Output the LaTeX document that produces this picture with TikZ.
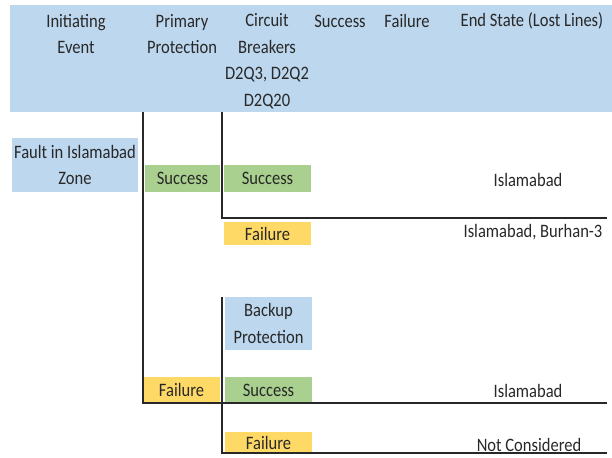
\documentclass[tikz,border=0pt]{standalone}
\usepackage{fontspec}
\setmainfont{Carlito}[FakeStretch=0.87]
\definecolor{hdrblue}{RGB}{189,215,238}
\definecolor{okgreen}{RGB}{169,208,142}
\definecolor{failyellow}{RGB}{255,217,102}
\definecolor{inkgray}{RGB}{40,40,40}

\tikzset{
  lbl/.style={text=inkgray,font=\fontsize{19}{26.5}\selectfont,align=center,inner sep=0pt},
  evbox/.style={lbl,minimum width=87,minimum height=26},
  branch/.style={draw=inkgray,line width=1.8pt}
}

\begin{document}
\begin{tikzpicture}[x=1pt,y=1pt,yscale=-1,xscale=1]
\useasboundingbox (0,0) rectangle (612,457);

%Header band
\fill [hdrblue] (10,5) rectangle (612,112) ;
\node [lbl] (hInit) at (76,34) {Initiating\\Event};
\node [lbl] (hPrim) at (182,34) {Primary\\Protection};
\node [lbl] (hCB) at (267,61) {Circuit\\Breakers\\D2Q3, D2Q2\\D2Q20};
\node [lbl] (hSucc) at (340,21) {Success};
\node [lbl] (hFail) at (407,21) {Failure};
\node [lbl] (hEnd) at (532,21) {End State (Lost Lines)};

%Initiating event
\node [lbl,fill=hdrblue,minimum width=126,minimum height=54] (fault) at (75,165) {Fault in Islamabad\\Zone};

%Primary protection
\node [evbox,fill=okgreen,minimum width=75,minimum height=27] (ppSucc) at (182.5,178.5) {Success};
\node [evbox,fill=failyellow,minimum width=77] (ppFail) at (181.5,390) {Failure};

%Circuit breakers
\node [evbox,fill=okgreen,minimum height=27] (cbSucc) at (267.5,178.5) {Success};
\node [evbox,fill=failyellow,minimum height=23] (cbFail) at (267.5,233.5) {Failure};

%Backup protection
\node [evbox,fill=hdrblue,minimum height=53] (backup) at (268.5,323.5) {Backup\\Protection};
\node [evbox,fill=okgreen] (bpSucc) at (268.5,390) {Success};
\node [evbox,fill=failyellow,minimum height=21] (bpFail) at (268.5,442.5) {Failure};

%End states
\node [lbl] (esA) at (528,180) {Islamabad};
\node [lbl] (esB) at (533,232) {Islamabad, Burhan-3};
\node [lbl] (esC) at (528,391) {Islamabad};
\node [lbl] (esD) at (529,445) {Not Considered};

%Branch lines
\coordinate (ppTop) at (143,112);
\coordinate (ppBot) at (143,403);
\coordinate (ppEnd) at (607,403);
\coordinate (cbTop) at (222,112);
\coordinate (cbBot) at (222,218);
\coordinate (cbEnd) at (607,218);
\coordinate (bpTop) at (222,297);
\coordinate (bpBot) at (222,453);
\coordinate (bpEnd) at (607,453);
\draw [branch] (ppTop) -- (ppBot) -- (ppEnd) ;
\draw [branch] (cbTop) -- (cbBot) -- (cbEnd) ;
\draw [branch] (bpTop) -- (bpBot) -- (bpEnd) ;

\end{tikzpicture}
\end{document}
